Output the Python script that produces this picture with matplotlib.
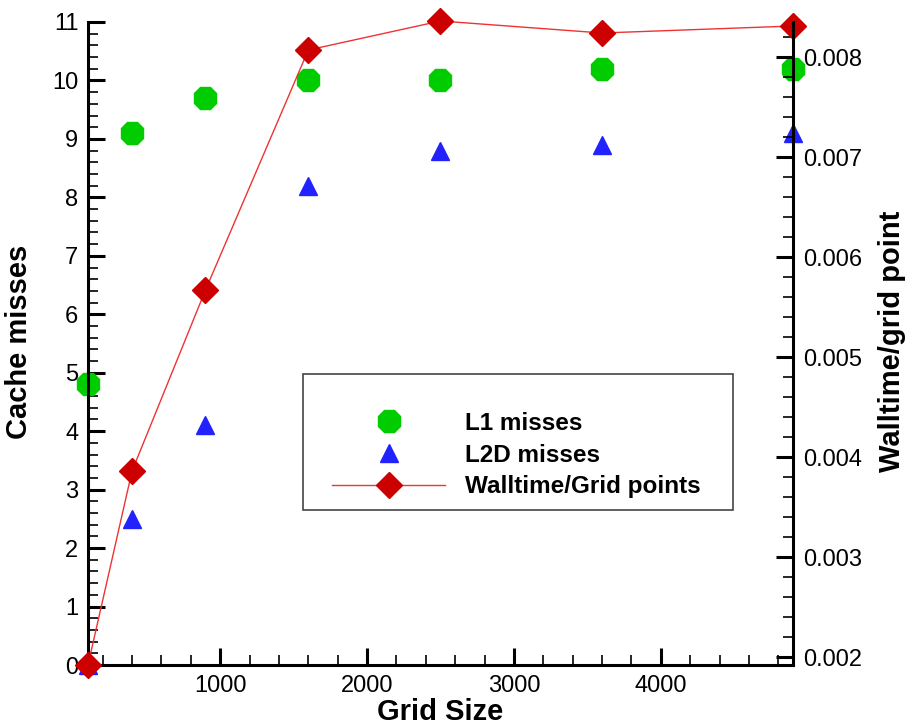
import numpy as np
import matplotlib.pyplot as plt
from matplotlib.ticker import MultipleLocator, FormatStrFormatter
from matplotlib.patches import Rectangle

plt.rcParams['font.family'] = ['Liberation Sans', 'DejaVu Sans']

# data
grid_size = [100, 400, 900, 1600, 2500, 3600, 4900]
l1_misses = [4.8, 9.1, 9.7, 10.0, 10.0, 10.2, 10.2]
l2d_misses = [0.0, 2.5, 4.1, 8.2, 8.8, 8.9, 9.1]
walltime = [0.00192, 0.00386, 0.00567, 0.00807, 0.00836, 0.00824, 0.00831]

fig = plt.figure(figsize=(9.06, 7.25), dpi=100)
ax = fig.add_axes([88/906, 60/725, 705/906, 643/725])
ax2 = ax.twinx()

h1, = ax.plot(grid_size, l1_misses, ls='none', marker='8', ms=17,
              color='#00cc00', clip_on=False, label='L1 misses')
h2, = ax.plot(grid_size, l2d_misses, ls='none', marker='^', ms=13,
              color='#2222ff', clip_on=False, label='L2D misses')
h3, = ax2.plot(grid_size, walltime, color='#ee3333', lw=1, marker='D', ms=13,
               mfc='#cc0000', mec='#cc0000', clip_on=False,
               label='Walltime/Grid points')

ax.set_xlim(100, 4900)
ax.set_ylim(0, 11)
ax2.set_ylim(0.00192, 0.00835)

ax.xaxis.set_major_locator(MultipleLocator(1000))
ax.xaxis.set_minor_locator(MultipleLocator(200))
ax.yaxis.set_major_locator(MultipleLocator(1))
ax.yaxis.set_minor_locator(MultipleLocator(0.2))
ax2.yaxis.set_major_locator(MultipleLocator(0.001))
ax2.yaxis.set_minor_locator(MultipleLocator(0.0002))
ax2.yaxis.set_major_formatter(FormatStrFormatter('%.3f'))

for a in (ax, ax2):
    for s in a.spines.values():
        s.set_linewidth(2.2)
    a.tick_params(which='major', direction='in', length=12, width=2.2,
                  labelsize=17, pad=7)
    a.tick_params(which='minor', direction='in', length=7, width=1.2)
ax.tick_params(axis='y', right=False)
ax.tick_params(axis='x', top=False)
ax2.spines['left'].set_visible(False)
ax2.spines['bottom'].set_visible(False)
ax2.spines['top'].set_visible(False)
ax.spines['top'].set_visible(False)
ax.spines['right'].set_visible(False)

ax.set_xlabel('Grid Size', fontsize=21, fontweight='bold')
ax.xaxis.set_label_coords(0.499, -0.051)
ax.set_ylabel('Cache misses', fontsize=21, fontweight='bold')
ax.yaxis.set_label_coords(-0.078, 0.503)
ax2.set_ylabel('Walltime/grid point', fontsize=21, fontweight='bold')
ax2.yaxis.set_label_coords(1.121, 0.504)

# legend frame and entries
fig.patches.append(Rectangle((303/906, 1 - 510/725), 430/906, 136/725,
                             transform=fig.transFigure, fill=True,
                             facecolor='white', edgecolor='#444444', lw=1.2,
                             zorder=5))
leg = fig.legend([h1, h2, h3], ['L1 misses', 'L2D misses', 'Walltime/Grid points'],
                 loc='center left', bbox_to_anchor=(332/906, 1 - 455/725),
                 frameon=False, borderpad=0, borderaxespad=0,
                 handlelength=4.65, handletextpad=0.82, labelspacing=0.35,
                 prop={'size': 17.5, 'weight': 'bold'})
leg.set_zorder(6)

fig.savefig('out.png', dpi=100)
